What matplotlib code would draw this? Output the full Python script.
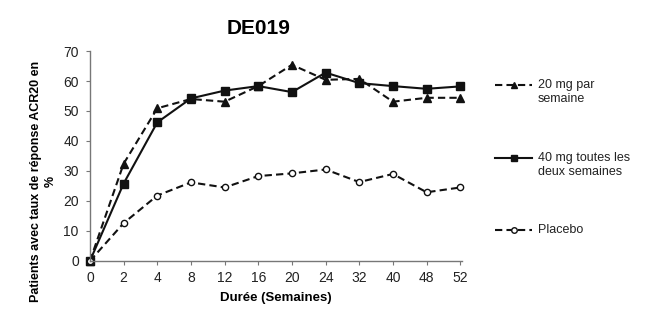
import matplotlib
matplotlib.use("Agg")
import matplotlib.pyplot as plt
from matplotlib.lines import Line2D

plt.rcParams['font.family'] = ['Liberation Sans', 'DejaVu Sans']

weeks = ['0', '2', '4', '8', '12', '16', '20', '24', '32', '40', '48', '52']
mg20 = [0, 32.4, 50.9, 54.0, 53.1, 58.3, 65.4, 60.4, 60.7, 53.1, 54.4, 54.4]
mg40 = [0, 25.8, 46.2, 54.2, 56.8, 58.3, 56.3, 62.8, 59.3, 58.3, 57.4, 58.2]
placebo = [0, 12.6, 21.8, 26.2, 24.5, 28.3, 29.2, 30.5, 26.3, 29.0, 22.9, 24.5]
labels = ['20 mg par\nsemaine', '40 mg toutes les\ndeux semaines', 'Placebo']

fig = plt.figure(figsize=(6.47, 3.27), dpi=100)
ax = fig.add_axes([0.139, 0.202, 0.575, 0.642])

x = list(range(len(weeks)))
col = '#111111'
dash = (0, (3.5, 2))
ax.plot(x, mg20, color=col, lw=1.5, linestyle=dash, marker='^', ms=5.5, mfc=col, mec=col, clip_on=False)
ax.plot(x, mg40, color=col, lw=1.5, linestyle='-', marker='s', ms=5.5, mfc=col, mec=col, clip_on=False)
ax.plot(x, placebo, color=col, lw=1.5, linestyle=dash, marker='o', ms=4.5, mfc='white', mec=col, mew=1,
        clip_on=False)

ax.set_xlim(0, 11.05)
ax.set_ylim(0, 70)
ax.set_xticks(x)
ax.set_xticklabels(weeks)
ax.set_yticks(range(0, 71, 10))
for s in ['top', 'right']:
    ax.spines[s].set_visible(False)
for s in ['left', 'bottom']:
    ax.spines[s].set_color('#777777')
    ax.spines[s].set_linewidth(1)
ax.tick_params(direction='out', length=3, color='#777777', labelsize=10, labelcolor='#222222')
ax.tick_params(axis='y', pad=5)
ax.tick_params(axis='x', pad=4)
ax.set_xlabel('Durée (Semaines)', fontsize=9.5, fontweight='bold', labelpad=5)
ax.set_ylabel('Patients avec taux de réponse ACR20 en\n%', fontsize=9, fontweight='bold',
              linespacing=1.25)
ax.yaxis.set_label_coords(-0.09, 0.38)
fig.text(0.399, 0.912, 'DE019', fontsize=15, fontweight='bold', ha='center', va='center')

# legend drawn on the right side
leg_y = [85, 158, 230]
styles = [(dash, '^', col, 5), ('-', 's', col, 5), (dash, 'o', 'white', 4)]
for yy, lab, (ls, mk, fc, ms) in zip(leg_y, labels, styles):
    yf = 1 - yy / 327
    fig.add_artist(Line2D([495 / 647, 532 / 647], [yf, yf], color=col, lw=1.5, linestyle=ls))
    fig.add_artist(Line2D([513.5 / 647], [yf], color=col, marker=mk, ms=ms, mfc=fc, mec=col, mew=1))
    fig.text(538 / 647, yf + 6 / 327, lab, fontsize=9, va='top', ha='left', color='#222222', linespacing=1.2)

fig.savefig('out.png', dpi=100)
